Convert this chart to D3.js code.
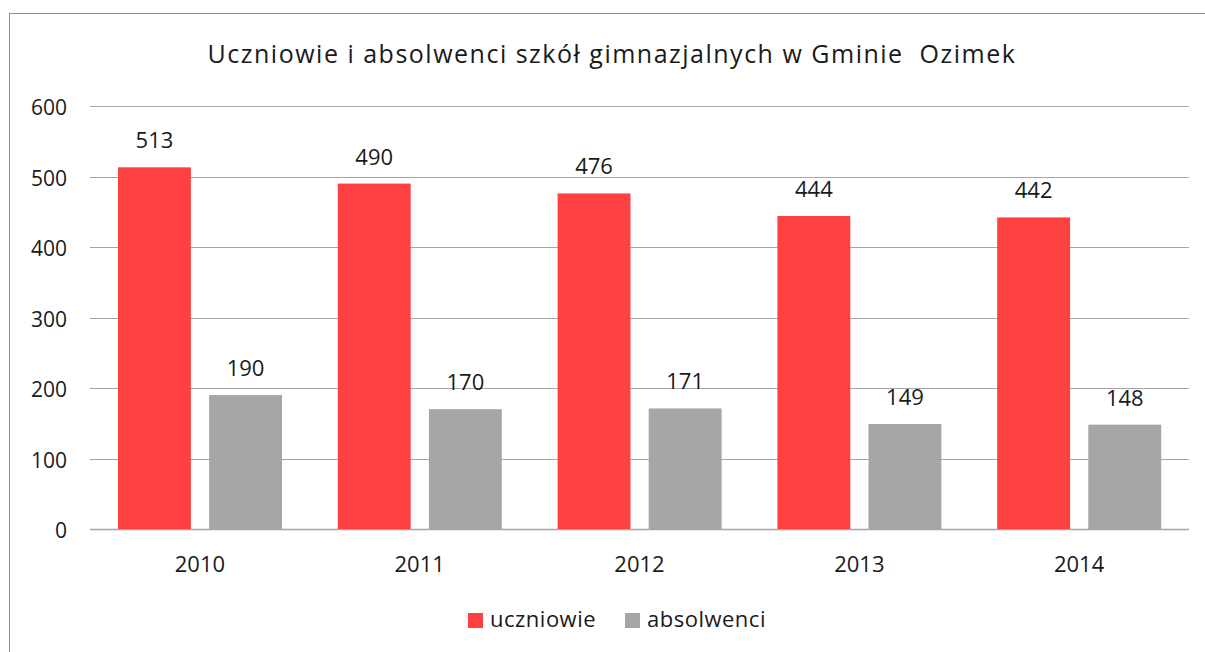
<!DOCTYPE html>
<html>
<head>
<meta charset="utf-8">
<script src="https://cdn.jsdelivr.net/npm/d3@7"></script>
<style>
body { margin: 0; background: #fff; }
text { font-family: "Open Sans", Lato, sans-serif; fill: #1a1a1a; }
</style>
</head>
<body>
<svg id="chart" width="1205" height="652"></svg>
<script>
// data
var years = ["2010", "2011", "2012", "2013", "2014"];
var uczniowie = [513, 490, 476, 444, 442];
var absolwenci = [190, 170, 171, 149, 148];
var seriesNames = ["uczniowie", "absolwenci"];
var seriesColors = ["#ff4040", "#a6a6a6"];
var yTicks = [0, 100, 200, 300, 400, 500, 600];

var svg = d3.select("#chart");

// outer frame
svg.append("rect")
.attr("x", 9.5)
.attr("y", 13.5)
.attr("width", 1220)
.attr("height", 660)
.style("fill", "none")
.style("stroke", "#8c8c8c")
.style("stroke-width", 1);

svg.append("text")
.text("Uczniowie i absolwenci szkół gimnazjalnych w Gminie  Ozimek")
.attr("x", 612)
.attr("y", 63)
.attr("text-anchor", "middle")
.attr("font-size", 25)
.attr("letter-spacing", 1.5)
.style("white-space", "pre");

var x = d3.scaleBand()
.domain(years)
.range([90, 1189]);

var y = d3.scaleLinear()
.domain([0, 600])
.range([529, 106]);

var inner = d3.scaleBand()
.domain(seriesNames)
.range([28, 192])
.paddingInner(0.2);

// gridlines
yTicks.forEach(function (t) {
	svg.append("line")
	.attr("x1", 90)
	.attr("x2", 1189)
	.attr("y1", Math.round(y(t)) + 0.5)
	.attr("y2", Math.round(y(t)) + 0.5)
	.style("stroke", "#a6a6a6")
	.style("stroke-width", t === 0 ? 1.5 : 1);
});

var yAxis = d3.axisLeft(y).tickValues(yTicks).tickSize(0).tickPadding(0);
svg.append("g")
.attr("transform", "translate(67,0)")
.call(yAxis)
.call(function (g) { g.select(".domain").remove(); })
.selectAll("text")
.attr("font-size", 21)
.attr("dy", "0.42em");

var xAxis = d3.axisBottom(x).tickSize(0).tickPadding(0);
svg.append("g")
.attr("transform", "translate(0,556)")
.call(xAxis)
.call(function (g) { g.select(".domain").remove(); })
.selectAll("text")
.attr("font-size", 22)
.attr("dy", "0.73em");

var allSeries = [uczniowie, absolwenci];

allSeries.forEach(function (vals, si) {
	years.forEach(function (yr, i) {
		var bx = x(yr) + inner(seriesNames[si]);
		svg.append("rect")
		.attr("x", bx)
		.attr("y", y(vals[i]))
		.attr("width", inner.bandwidth())
		.attr("height", y(0) - y(vals[i]))
		.style("fill", seriesColors[si]);
		svg.append("text")
		.text(vals[i])
		.attr("x", bx + inner.bandwidth() / 2)
		.attr("y", y(vals[i]) - 19)
		.attr("text-anchor", "middle")
		.attr("font-size", 22);
	});
});

// legend
var legendX = [468, 625];
seriesNames.forEach(function (name, i) {
	svg.append("rect")
	.attr("x", legendX[i])
	.attr("y", 613)
	.attr("width", 15)
	.attr("height", 15)
	.style("fill", seriesColors[i]);
	svg.append("text")
	.text(name)
	.attr("x", legendX[i] + 22)
	.attr("y", 627)
	.attr("font-size", 22)
	.attr("letter-spacing", 0.5);
});
</script>
</body>
</html>
